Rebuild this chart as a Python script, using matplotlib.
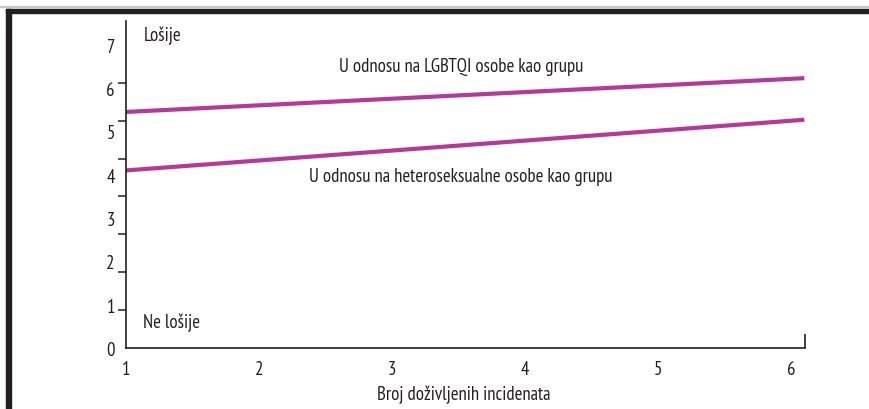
import matplotlib
matplotlib.use("Agg")
import matplotlib.pyplot as plt
import numpy as np
from matplotlib.patches import Rectangle

plt.rcParams['font.family'] = ['PT Sans Narrow', 'DejaVu Sans']

# Data
x_vals = [1, 6.1]
lgbtqi = [5.45, 6.23]
hetero = [4.10, 5.27]
x_ticks = [1, 2, 3, 4, 5, 6]
y_ticks = [0, 1, 2, 3, 4, 5, 6, 7]
label_lgbtqi = "U odnosu na LGBTQI osobe kao grupu"
label_hetero = "U odnosu na heteroseksualne osobe kao grupu"
xlabel = "Broj doživljenih incidenata"
top_label = "Lošije"
bottom_label = "Ne lošije"

W, H = 869, 410
fig = plt.figure(figsize=(W/100, H/100), dpi=100)

# frame border (top and left)
fig.patches.append(Rectangle((0, 1 - 8/H), 1, 1/H, transform=fig.transFigure,
                             color='#c8c8c8', zorder=0))
fig.patches.append(Rectangle((6/W, 1 - 14/H), 1 - 6/W, 4.5/H, transform=fig.transFigure,
                             color='#231f20', zorder=1))
fig.patches.append(Rectangle((6/W, 0), 5/W, 1 - 10/H, transform=fig.transFigure,
                             color='#231f20', zorder=1))

ax = fig.add_axes([126/W, 61/H, (805-126)/W, (349-22)/H])
color = '#b5399a'
ax.plot(x_vals, lgbtqi, color=color, lw=3.0, solid_capstyle='butt', clip_on=False)
ax.plot(x_vals, hetero, color=color, lw=3.0, solid_capstyle='butt', clip_on=False)

ax.set_xlim(1, 6.105)
ax.set_ylim(0, 7.55)

for s in ['top', 'right']:
    ax.spines[s].set_visible(False)
for s in ['left', 'bottom']:
    ax.spines[s].set_color('#231f20')
    ax.spines[s].set_linewidth(1.2)

tc = '#231f20'
fs = 13.5
ax.set_yticks(y_ticks)
ax.set_yticklabels([str(v) for v in y_ticks], fontsize=fs, color=tc)
ax.tick_params(axis='y', which='major', length=0, pad=8)
ax.set_yticks(np.linspace(0, 7, 9), minor=True)
ax.tick_params(axis='y', which='minor', length=6, width=1.1, color=tc, direction='out')

ax.set_xticks(x_ticks)
ax.set_xticklabels([str(v) for v in x_ticks], fontsize=fs, color=tc)
ax.tick_params(axis='x', which='major', length=0, pad=9)
ax.set_xticks([6.105], minor=True)
ax.tick_params(axis='x', which='minor', length=10, width=1.2, color=tc, direction='in')

fig.text(464/W, 1 - 395/H, xlabel, fontsize=fs, color=tc, va='center', ha='center')

ax.text(1.13, 7.24, top_label, fontsize=fs, color=tc, va='center', ha='left')
ax.text(1.13, 0.6, bottom_label, fontsize=fs, color=tc, va='center', ha='left')
ax.text(3.52, 6.5, label_lgbtqi, fontsize=fs, color=tc, va='center', ha='center')
ax.text(3.52, 3.98, label_hetero, fontsize=fs, color=tc, va='center', ha='center')

fig.savefig('out.png', dpi=100)
